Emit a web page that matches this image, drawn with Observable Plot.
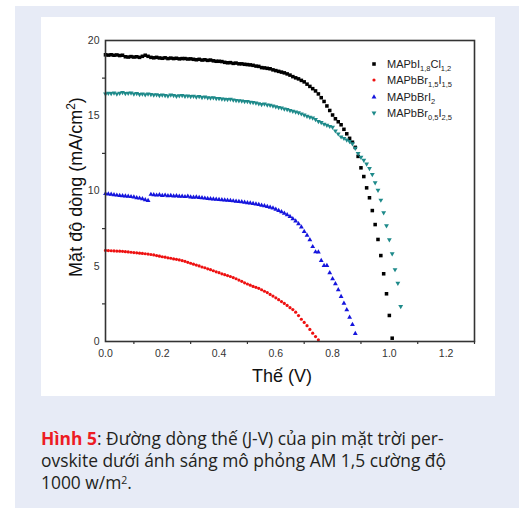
<!DOCTYPE html>
<html><head><meta charset="utf-8">
<script src="https://cdn.jsdelivr.net/npm/d3@7"></script>
<script src="https://cdn.jsdelivr.net/npm/@observablehq/plot@0.6"></script>
<style>
html,body{margin:0;padding:0;background:#fff;width:525px;height:510px;overflow:hidden;}
#panel{position:absolute;left:15px;top:6px;width:504px;height:502px;background:#e7ebf6;}
#box{position:absolute;left:41px;top:17px;width:454px;height:379px;background:#fff;}
#box svg{position:absolute;left:0;top:0;}
#legend{position:absolute;left:327px;top:39px;font-family:"Liberation Sans",Arial,sans-serif;font-size:11px;color:#222;}
#legend .row{display:flex;align-items:center;height:16.3px;white-space:nowrap;}
#legend svg{position:static;width:12px;height:10px;margin-right:7px;}
#legend sub{font-size:7.5px;vertical-align:-3px;line-height:0;}
#caption{position:absolute;left:41px;top:427px;font-family:"Open Sans",sans-serif;font-size:17.4px;line-height:22px;color:#231f20;white-space:nowrap;}
#caption .line{display:block;height:22px;}
#caption .fig{color:#ed1c24;font-weight:bold;}
#caption sup{font-size:10.5px;vertical-align:5px;line-height:0;}
</style>
</head><body>
<div id="panel"></div>
<div id="box"><div id="legend"></div></div>
<div id="caption"><span class="line"><span class="fig">Hình 5</span>: Đường dòng thế (J-V) của pin mặt trời per-</span><span class="line">ovskite dưới ánh sáng mô phỏng AM 1,5 cường độ</span><span class="line">1000 w/m<sup>2</sup>.</span></div>
<script>
// Voltage sweep (V)
const voltage = [0.00,0.01,0.02,0.03,0.04,0.05,0.06,0.07,0.08,0.09,
0.10,0.11,0.12,0.13,0.14,0.15,0.16,0.17,0.18,0.19,
0.20,0.21,0.22,0.23,0.24,0.25,0.26,0.27,0.28,0.29,
0.30,0.31,0.32,0.33,0.34,0.35,0.36,0.37,0.38,0.39,
0.40,0.41,0.42,0.43,0.44,0.45,0.46,0.47,0.48,0.49,
0.50,0.51,0.52,0.53,0.54,0.55,0.56,0.57,0.58,0.59,
0.60,0.61,0.62,0.63,0.64,0.65,0.66,0.67,0.68,0.69,
0.70,0.71,0.72,0.73,0.74,0.75,0.76,0.77,0.78,0.79,
0.80,0.81,0.82,0.83,0.84,0.85,0.86,0.87,0.88,0.89,
0.90,0.91,0.92,0.93,0.94,0.95,0.96,0.97,0.98,0.99,
1.00,1.01,1.02,1.03,1.04];

// Current density (mA/cm2) per sample
const jMAPbI18Cl12 = [19.05,19.03,19.05,19.02,19.04,19.0,19.02,18.92,18.9,18.93,
18.9,18.92,18.88,18.95,19.02,18.95,18.88,18.85,18.88,18.84,
18.82,18.85,18.8,18.83,18.8,18.82,18.78,18.8,18.8,18.77,
18.78,18.75,18.72,18.75,18.7,18.72,18.68,18.7,18.65,18.62,
18.62,18.6,18.55,18.52,18.53,18.48,18.5,18.45,18.45,18.42,
18.4,18.38,18.35,18.3,18.28,18.2,18.18,18.15,18.12,18.05,
18.0,17.95,17.9,17.85,17.78,17.7,17.6,17.52,17.45,17.35,
17.25,17.1,16.95,16.8,16.65,16.45,16.2,15.95,15.65,15.35,
15.05,14.8,14.6,14.4,14.1,13.8,13.5,13.24,12.9,12.3,
11.54,10.96,10.21,9.55,8.7,7.77,6.78,5.71,4.5,3.17,
1.73,0.22];

const jMAPbBr15I15 = [6.05,6.04,6.03,6.02,6.01,6.0,5.99,5.97,5.95,5.93,
5.91,5.89,5.87,5.85,5.83,5.81,5.78,5.75,5.71,5.67,
5.63,5.6,5.56,5.53,5.49,5.46,5.42,5.38,5.33,5.26,
5.2,5.14,5.08,5.02,4.95,4.9,4.83,4.77,4.7,4.63,
4.57,4.5,4.44,4.38,4.32,4.25,4.17,4.08,4.0,3.9,
3.82,3.74,3.66,3.6,3.53,3.44,3.34,3.25,3.13,3.02,
2.9,2.78,2.65,2.53,2.4,2.25,2.12,1.95,1.72,1.48,
1.27,1.05,0.8,0.55,0.33,0.11];

const jMAPbBrI2 = [9.82,9.8,9.78,9.75,9.72,9.7,9.68,9.66,9.64,9.62,
9.6,9.55,9.52,9.48,9.42,9.37,9.77,9.75,9.72,9.74,
9.7,9.72,9.68,9.7,9.66,9.68,9.64,9.65,9.62,9.64,
9.6,9.58,9.6,9.56,9.55,9.52,9.5,9.48,9.47,9.45,
9.43,9.42,9.4,9.38,9.36,9.34,9.32,9.3,9.28,9.25,
9.22,9.2,9.16,9.13,9.1,9.05,9.01,8.96,8.92,8.86,
8.78,8.7,8.62,8.52,8.42,8.3,8.15,8.0,7.82,7.6,
7.3,7.05,6.75,6.3,5.95,5.94,5.38,5.05,5.05,4.56,
4.16,3.83,3.43,2.99,2.54,2.1,1.61,1.13,0.53];

const jMAPbBr05I25 = [16.45,16.5,16.48,16.52,16.45,16.5,16.55,16.48,16.5,16.52,
16.45,16.48,16.42,16.45,16.4,16.45,16.42,16.38,16.4,16.35,
16.38,16.35,16.32,16.38,16.35,16.3,16.33,16.35,16.3,16.32,
16.28,16.3,16.25,16.28,16.22,16.25,16.2,16.18,16.2,16.15,
16.15,16.12,16.1,16.08,16.1,16.05,16.02,16.0,15.98,15.95,
15.95,15.9,15.88,15.85,15.8,15.75,15.78,15.72,15.7,15.65,
15.6,15.55,15.52,15.45,15.42,15.35,15.3,15.25,15.2,15.13,
15.05,14.97,14.9,14.85,14.75,14.62,14.55,14.45,14.38,14.3,
14.24,14.0,13.8,13.6,13.5,13.4,13.3,13.15,12.85,12.5,
12.25,12.05,11.8,11.5,11.1,10.55,10.05,9.4,8.56,7.7,
6.76,5.83,4.78,3.88,2.33];

const xTicks = [0, 0.2, 0.4, 0.6, 0.8, 1.0, 1.2];
const xMinorTicks = [0.1, 0.3, 0.5, 0.7, 0.9, 1.1, 1.3];
const yTicks = [0, 5, 10, 15, 20];
const yMinorTicks = [2.5, 7.5, 12.5, 17.5];
const xTitle = "Thế (V)";
const yTitle = "Mặt độ dòng (mA/cm";

const triangleDown = {
  draw(context, size) {
    const y = -Math.sqrt(size / (Math.sqrt(3) * 3));
    context.moveTo(0, -y * 2);
    context.lineTo(-Math.sqrt(3) * y, y);
    context.lineTo(Math.sqrt(3) * y, y);
    context.closePath();
  }
};

const seriesDefs = [
  {name: "MAPbI18Cl12", label: 'MAPbI<sub>1,8</sub>Cl<sub>1,2</sub>', values: jMAPbI18Cl12, color: "#000000", symbol: "square", r: 2.0},
  {name: "MAPbBr15I15", label: 'MAPbBr<sub>1,5</sub>I<sub>1,5</sub>', values: jMAPbBr15I15, color: "#ee1111", symbol: "circle", r: 1.6},
  {name: "MAPbBrI2", label: 'MAPbBrI<sub>2</sub>', values: jMAPbBrI2, color: "#1515dd", symbol: "triangle", r: 1.8},
  {name: "MAPbBr05I25", label: 'MAPbBr<sub>0,5</sub>I<sub>2,5</sub>', values: jMAPbBr05I25, color: "#1e8a8a", symbol: triangleDown, r: 1.8}
];

const dotMarks = seriesDefs.map(s => {
  const data = s.values.map((j, i) => ({v: voltage[i], j}));
  return Plot.dot(data, {x: "v", y: "j", r: s.r, symbol: s.symbol, fill: s.color, stroke: "none"});
});

const chart = Plot.plot({
  width: 454, height: 379,
  marginLeft: 64, marginTop: 23, marginRight: 21, marginBottom: 55,
  style: {fontFamily: "'Liberation Sans', Arial, sans-serif", fontSize: "10.5px", color: "#333", background: "transparent"},
  x: {domain: [0, 1.3], label: null},
  y: {domain: [0, 20], label: null},
  marks: [
    Plot.axisX({ticks: xMinorTicks, tickSize: 3, tickFormat: () => "", label: null, strokeWidth: 1.2}),
    Plot.axisX({ticks: xTicks, tickSize: 0, tickPadding: 8, tickFormat: d3.format(".1f"), label: null}),
    Plot.axisY({ticks: yMinorTicks, tickSize: 3, tickFormat: () => "", label: null, strokeWidth: 1.2}),
    Plot.axisY({ticks: yTicks, tickSize: 0, tickPadding: 6, tickFormat: d3.format("d"), label: null}),
    ...dotMarks,
    Plot.frame({stroke: "#333", strokeWidth: 1.6})
  ]
});

const svg = d3.select(chart);
svg.append("text")
  .attr("x", 241).attr("y", 365)
  .attr("text-anchor", "middle")
  .style("font-family", "'Liberation Sans', Arial, sans-serif")
  .style("font-size", "18px").attr("fill", "#111")
  .text(xTitle);
const yt = svg.append("text")
  .attr("transform", "translate(41,170) rotate(-90)")
  .attr("text-anchor", "middle")
  .style("font-family", "'Liberation Sans', Arial, sans-serif")
  .style("font-size", "18px").attr("fill", "#111");
yt.append("tspan").text(yTitle);
yt.append("tspan").attr("dy", -7).style("font-size", "12px").text("2");
yt.append("tspan").attr("dy", 7).text(")");

document.getElementById("box").prepend(chart);

// Legend
const legend = d3.select("#legend");
const symbolPath = (sym, r) => {
  const symObj = sym === "square" ? d3.symbolSquare : sym === "triangle" ? d3.symbolTriangle : sym === "circle" ? d3.symbolCircle : sym;
  return d3.symbol(symObj, Math.PI * r * r)();
};
for (const s of seriesDefs) {
  const row = legend.append("div").attr("class", "row");
  const sv = row.append("svg").attr("viewBox", "-6 -5 12 10");
  sv.append("path").attr("d", symbolPath(s.symbol, s.r)).attr("fill", s.color);
  row.append("span").html(s.label);
}
</script>
</body></html>
